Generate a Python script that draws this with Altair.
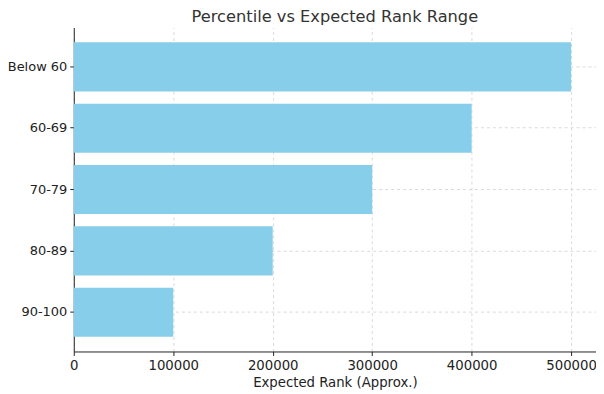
import altair as alt
import pandas as pd

categories = ["Below 60", "60-69", "70-79", "80-89", "90-100"]
ranks = [500000, 400000, 300000, 200000, 100000]
x_ticks = [0, 100000, 200000, 300000, 400000, 500000]

df = pd.DataFrame({"Percentile": categories, "Rank": ranks})

font = "DejaVu Sans"

chart = alt.Chart(df).mark_bar(color="#87CEEB").encode(
    y=alt.Y(
        "Percentile:N",
        sort=categories,
        scale=alt.Scale(paddingInner=0.2, paddingOuter=0.24),
        axis=alt.Axis(
            title=None,
            grid=True,
            bandPosition=0.5,
            gridDash=[3, 3],
            gridColor="#d0d0d0",
            gridWidth=0.8,
            labelFont=font,
            labelFontSize=13,
            labelColor="#222222",
            tickColor="#222222",
            tickSize=4,
            labelPadding=3,
            domainColor="#222222",
            domainWidth=1,
        ),
    ),
    x=alt.X(
        "Rank:Q",
        scale=alt.Scale(domain=[0, 525000], nice=False),
        axis=alt.Axis(
            title="Expected Rank (Approx.)",
            values=x_ticks,
            format="d",
            grid=True,
            gridDash=[3, 3],
            gridColor="#d0d0d0",
            gridWidth=0.8,
            labelFont=font,
            labelFontSize=13.3,
            labelColor="#222222",
            labelFlush=False,
            labelPadding=3,
            tickColor="#222222",
            tickSize=4,
            domainColor="#222222",
            domainWidth=1,
            titleFont=font,
            titleFontSize=13.3,
            titleFontWeight="normal",
            titleColor="#222222",
            titlePadding=4,
        ),
    ),
).properties(
    width=524,
    height=325,
    title=alt.TitleParams(
        "Percentile vs Expected Rank Range",
        font=font,
        fontSize=16.3,
        fontWeight="normal",
        color="#333333",
        anchor="middle",
        offset=2,
    ),
    autosize=alt.AutoSizeParams(type="none"),
    padding={"left": 66, "top": 19, "right": 0, "bottom": 40},
).configure_view(stroke=None)

chart.save("out.html", embed_options={"renderer": "svg", "actions": False})
